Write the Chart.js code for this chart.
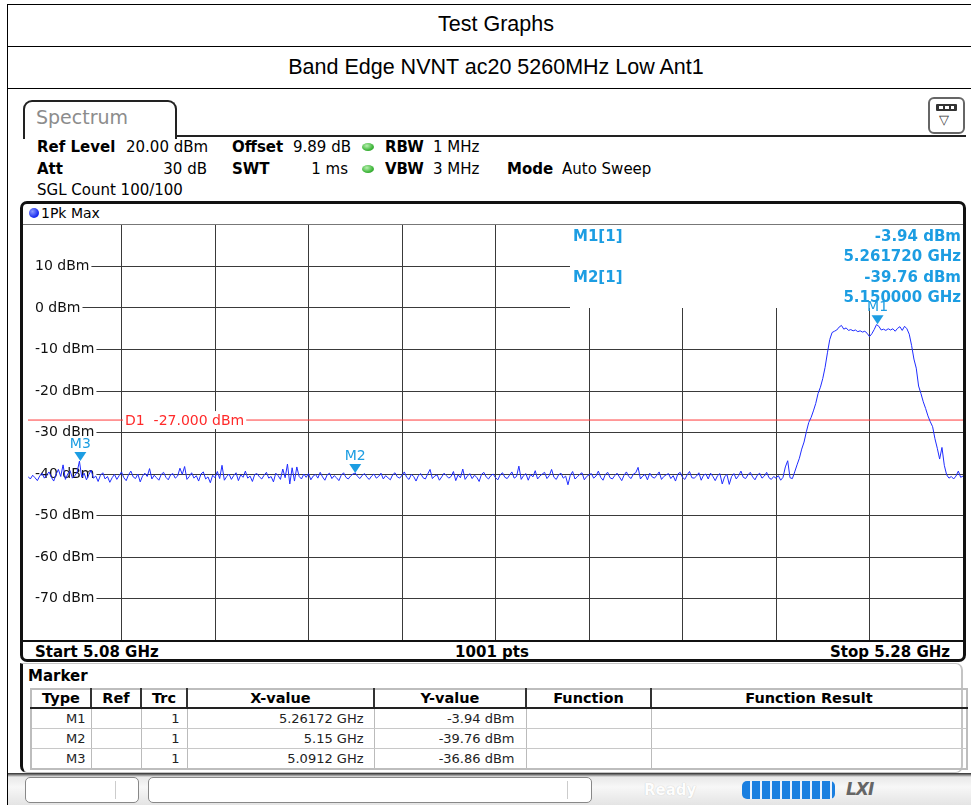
<!DOCTYPE html>
<html>
<head>
<meta charset="utf-8">
<script src="https://cdn.jsdelivr.net/npm/chart.js@4.4.0/dist/chart.umd.min.js"></script>
<style>
  html, body { margin: 0; padding: 0; background: #fff; }
  #page { position: relative; width: 971px; height: 805px; overflow: hidden; font-family: "DejaVu Sans", sans-serif; }
  .abs { position: absolute; }
  .title { font-family: "Liberation Sans", Arial, sans-serif; font-size: 21.5px; text-align: center; left: 7px; width: 978px; }
  .hl { position: absolute; height: 1px; background: #000; }
  .b { font-weight: bold; }
  .hdr { font-size: 15px; white-space: nowrap; line-height: 18px; }
  .dot { position: absolute; width: 12px; height: 8px; border-radius: 50%; background: radial-gradient(ellipse at 40% 35%, #b8f0b0, #3fb63a 60%, #2a8a28); }
  #mtab { position: absolute; left: 30px; top: 688px; border-collapse: collapse; border: 2px solid #bdbdbd; font-size: 13px; }
  #mtab th { font-weight: bold; font-size: 14.5px; height: 17px; padding: 0; border-left: 2px solid #333; border-bottom: 2px solid #222; line-height: 17px; }
  #mtab th:first-child { border-left: none; }
  #mtab td { height: 19px; padding: 0; border-left: 1px solid #bbb; border-bottom: 1px solid #c8c8c8; text-align: right; line-height: 19px; color: #222; }
  #mtab td:first-child { border-left: none; }
</style>
</head>
<body>
<div id="page">
  <!-- report table -->
  <div class="abs" style="left:7px;top:4px;width:978px;height:830px;border:1px solid #000;"></div>
  <div class="hl" style="left:7px;top:46px;width:978px;"></div>
  <div class="hl" style="left:7px;top:88px;width:978px;"></div>
  <div class="abs title" style="top:12px;">Test Graphs</div>
  <div class="abs title" style="top:55px;">Band Edge NVNT ac20 5260MHz Low Ant1</div>

  <!-- spectrum tab -->
  <div class="abs" style="left:23px;top:100px;width:150px;height:37px;border:2px solid #222;border-bottom:none;border-radius:9px 9px 0 0;"></div>
  <div class="abs" style="left:36px;top:106px;font-size:19px;color:#8c8c8c;">Spectrum</div>
  <div class="abs" style="left:175px;top:135px;width:791px;height:2px;background:#222;"></div>
  <div class="abs" style="left:928px;top:97px;width:33px;height:33px;border:2px solid #666;border-radius:6px;background:#fff;">
    <div class="abs" style="left:6px;top:5px;width:21px;height:7px;background:#333;border-radius:1px;"></div>
    <div class="abs" style="left:9px;top:7px;width:4px;height:3px;background:#fff;"></div>
    <div class="abs" style="left:15px;top:7px;width:4px;height:3px;background:#fff;"></div>
    <div class="abs" style="left:21px;top:7px;width:3px;height:3px;background:#fff;"></div>
    <div class="abs" style="left:9px;top:13px;font-size:13px;color:#333;">&#9661;</div>
  </div>

  <!-- settings -->
  <div class="abs hdr" style="left:37px;top:138px;"><span class="b">Ref Level</span></div>
  <div class="abs hdr" style="left:126px;top:138px;">20.00 dBm</div>
  <div class="abs hdr" style="left:232px;top:138px;"><span class="b">Offset</span></div>
  <div class="abs hdr" style="left:293px;top:138px;">9.89 dB</div>
  <div class="dot" style="left:362px;top:143px;"></div>
  <div class="abs hdr" style="left:385px;top:138px;"><span class="b">RBW</span></div>
  <div class="abs hdr" style="left:433px;top:138px;">1 MHz</div>

  <div class="abs hdr" style="left:37px;top:160px;"><span class="b">Att</span></div>
  <div class="abs hdr" style="left:157px;top:160px;width:50px;text-align:right;">30 dB</div>
  <div class="abs hdr" style="left:232px;top:160px;"><span class="b">SWT</span></div>
  <div class="abs hdr" style="left:298px;top:160px;width:50px;text-align:right;">1 ms</div>
  <div class="dot" style="left:362px;top:165px;"></div>
  <div class="abs hdr" style="left:385px;top:160px;"><span class="b">VBW</span></div>
  <div class="abs hdr" style="left:433px;top:160px;">3 MHz</div>
  <div class="abs hdr" style="left:507px;top:160px;"><span class="b">Mode</span></div>
  <div class="abs hdr" style="left:562px;top:160px;">Auto Sweep</div>

  <div class="abs hdr" style="left:37px;top:181px;">SGL Count 100/100</div>

  <!-- diagram frame -->
  <div class="abs" style="left:20px;top:201px;width:946px;height:461px;box-sizing:border-box;border:3px solid #111;border-radius:7px;"></div>
  <div class="abs" style="left:29px;top:208px;width:10px;height:10px;border-radius:50%;background:radial-gradient(circle at 35% 35%, #8a9aff, #1a2cf0 65%);"></div>
  <div class="abs" style="left:41px;top:204px;font-size:14px;line-height:18px;">1Pk Max</div>

  <canvas id="spec" width="935" height="415" class="abs" style="left:28px;top:225px;"></canvas>

  <div class="abs" style="left:23px;top:224px;width:940px;height:1px;background:#777;z-index:2;"></div>
  <div class="abs" style="left:23px;top:640px;width:940px;height:2px;background:#111;z-index:2;"></div>
  <div class="abs hdr b" style="left:35px;top:643px;">Start 5.08 GHz</div>
  <div class="abs hdr b" style="left:392px;top:643px;width:200px;text-align:center;">1001 pts</div>
  <div class="abs hdr b" style="left:750px;top:643px;width:200px;text-align:right;">Stop 5.28 GHz</div>

  <!-- marker table panel -->
  <div class="abs" style="left:20px;top:663px;width:943px;height:110px;box-sizing:border-box;border:1px solid #c4c4c4;border-left:3px solid #111;border-right:2px solid #c4c4c4;border-radius:0 7px 7px 7px;"></div>
  <div class="abs hdr b" style="left:28px;top:667px;">Marker</div>
  <table id="mtab">
    <thead><tr>
      <th style="width:58px">Type</th><th style="width:48px">Ref</th><th style="width:44px">Trc</th>
      <th style="width:185px">X-value</th><th style="width:150px">Y-value</th><th style="width:123px">Function</th><th style="width:314px">Function Result</th>
    </tr></thead>
    <tbody id="mrows"></tbody>
  </table>

  <!-- status bar -->
  <div class="abs" style="left:8px;top:773px;width:963px;height:32px;background:linear-gradient(#2a2a2a 0px, #8a8a8a 2px, #e9e9e9 4px, #f7f7f7 14px, #e4e4e4 32px);"></div>
  <div class="abs" style="left:25px;top:777px;width:114px;height:26px;box-sizing:border-box;border:1px solid #888;border-radius:5px;background:#fff;"></div>
  <div class="abs" style="left:115px;top:781px;width:1px;height:18px;background:#ccc;"></div>
  <div class="abs" style="left:148px;top:777px;width:444px;height:26px;box-sizing:border-box;border:1px solid #888;border-radius:5px;background:#fff;"></div>
  <div class="abs" style="left:567px;top:781px;width:1px;height:18px;background:#ccc;"></div>
  <div class="abs b" style="left:644px;top:781px;font-size:15px;color:#fdfdfd;text-shadow:0 0 1px #bbb;">Ready</div>
  <div class="abs" style="left:742px;top:781px;width:93px;height:18px;border-radius:5px;background:repeating-linear-gradient(90deg,#1a7fe0 0px,#1a7fe0 8px,#e8f2ff 8px,#e8f2ff 10px);"></div>
  <div class="abs b" style="left:846px;top:779px;font-size:17px;font-style:italic;color:#666;letter-spacing:-1px;">LXI</div>
</div>

<script>
// sweep
const startGHz = 5.08;
const stopGHz = 5.28;
const xTicks = [5.10, 5.12, 5.14, 5.16, 5.18, 5.20, 5.22, 5.24, 5.26];
const yTicks = [10, 0, -10, -20, -30, -40, -50, -60, -70];
const yMin = -80, yMax = 20;

// 1Pk Max trace, dBm, read at 0.5 MHz steps
const traceDbm = [
  -40.6,-41.2,-40.3,-40.9,-41.6,-40.5,-39.8,-41.0,-40.2,-39.5,-40.8,-41.7,-40.1,-38.9,-40.6,-37.8,-41.3,-40.0,-39.2,-41.0,
  -40.4,-39.6,-36.9,-40.8,-39.8,-41.4,-40.2,-39.1,-41.0,-40.5,-41.8,-40.3,-39.7,-41.2,-40.6,-42.0,-40.9,-40.1,-41.3,-40.4,
  -39.5,-40.9,-41.6,-40.2,-39.3,-40.7,-41.1,-40.0,-41.9,-40.5,-39.8,-40.6,-38.7,-41.2,-40.3,-40.9,-41.5,-40.1,-39.6,-40.8,
  -41.4,-40.2,-39.9,-41.0,-40.5,-38.6,-40.1,-38.2,-41.3,-40.6,-39.7,-41.0,-40.4,-41.7,-40.0,-39.5,-41.2,-40.7,-42.1,-40.3,
  -40.9,-39.4,-41.1,-37.9,-41.5,-40.6,-40.0,-41.3,-40.4,-39.7,-41.6,-40.2,-40.8,-39.3,-41.0,-40.5,-41.8,-40.1,-39.9,-40.7,
  -41.2,-40.3,-39.6,-41.0,-40.6,-41.9,-39.8,-40.4,-41.3,-38.8,-40.9,-37.6,-42.4,-38.5,-41.7,-38.3,-40.6,-41.2,-40.0,-40.8,
  -39.9,-41.4,-40.5,-40.1,-41.0,-39.6,-40.7,-41.5,-40.2,-39.8,-41.1,-40.4,-40.9,-41.6,-40.3,-39.7,-40.8,-41.2,-40.5,-40.0,
  -39.76,-40.6,-41.1,-40.3,-39.9,-40.8,-41.3,-40.5,-40.0,-41.0,-40.6,-39.8,-41.2,-40.4,-40.9,-41.4,-40.2,-39.7,-40.7,-41.0,
  -40.3,-39.5,-40.8,-41.3,-40.1,-40.6,-41.7,-40.4,-39.9,-40.9,-41.2,-40.0,-38.9,-41.1,-40.5,-40.2,-41.5,-40.7,-39.8,-40.4,
  -41.0,-40.6,-39.4,-41.6,-40.2,-40.9,-38.8,-41.3,-40.5,-39.9,-41.1,-40.3,-40.8,-41.8,-40.1,-39.6,-40.7,-41.2,-40.4,-40.0,
  -40.9,-41.4,-40.2,-39.7,-40.8,-41.1,-40.3,-39.5,-41.0,-40.6,-38.1,-41.3,-40.4,-39.9,-41.5,-40.1,-40.7,-39.2,-41.2,-40.5,
  -40.0,-39.6,-41.1,-40.4,-38.9,-40.8,-41.3,-40.2,-39.8,-41.0,-40.5,-42.6,-40.3,-39.4,-41.2,-40.7,-40.1,-39.7,-41.4,-40.6,
  -40.2,-39.9,-41.0,-40.5,-39.3,-40.8,-41.5,-40.1,-39.6,-40.9,-41.2,-40.4,-39.8,-40.7,-41.6,-40.3,-39.5,-40.6,-41.1,-40.0,
  -39.7,-38.4,-41.2,-40.5,-40.1,-41.4,-39.8,-40.7,-41.0,-40.3,-39.5,-41.3,-40.6,-40.2,-39.9,-41.1,-40.4,-41.7,-40.0,-39.6,
  -40.8,-41.3,-40.2,-39.4,-40.9,-41.0,-40.5,-39.7,-41.5,-40.3,-40.0,-41.2,-39.8,-40.6,-41.6,-40.4,-39.9,-42.4,-40.7,-40.1,
  -42.5,-40.6,-39.9,-41.2,-40.4,-39.3,-40.8,-41.1,-40.2,-39.6,-40.7,-41.4,-40.3,-39.8,-41.0,-40.5,-39.6,-40.9,-41.3,-40.6,
  -41.0,-40.4,-41.5,-40.8,-38.3,-36.8,-40.9,-41.1,-39.5,-37.8,-36.2,-34.0,-32.3,-29.8,-27.6,-26.4,-24.8,-23.0,-20.6,-19.1,
  -17.0,-14.3,-10.8,-7.6,-5.9,-5.6,-5.3,-4.6,-4.2,-5.1,-4.8,-5.4,-5.2,-5.5,-5.3,-5.7,-5.5,-5.8,-5.6,-6.1,
  -6.9,-6.2,-5.2,-4.0,-4.4,-5.3,-5.1,-5.4,-5.0,-5.3,-5.0,-5.6,-4.9,-4.5,-5.4,-4.4,-5.0,-6.3,-9.0,-12.3,
  -14.5,-18.8,-20.6,-22.6,-24.2,-26.0,-27.4,-28.6,-31.5,-33.8,-36.4,-33.6,-37.9,-40.2,-41.0,-40.6,-41.2,-40.5,-39.3,-40.8,
  -40.5
];

// markers
const markerNames = ['M1', 'M2', 'M3'];
const markerGHz = [5.26172, 5.15, 5.0912];
const markerDbm = [-3.94, -39.76, -36.86];
const markerTrace = [1, 1, 1];

// display line
const d1Dbm = -27;

const FONT = '"DejaVu Sans", sans-serif';
const MK = '#1c9de2';

const step = (stopGHz - startGHz) / (traceDbm.length - 1);
const tracePts = traceDbm.map((v, i) => ({ x: startGHz + i * step, y: v }));

const noPad = (s) => {
  s.paddingTop = 0; s.paddingBottom = 0; s.paddingLeft = 0; s.paddingRight = 0;
};

const spectrumDecor = {
  id: 'spectrumDecor',
  beforeDatasetsDraw(chart) {
    // blank area behind the marker readout
    const { ctx, chartArea, scales } = chart;
    const y0 = scales.y.getPixelForValue(0);
    ctx.save();
    ctx.fillStyle = '#fff';
    ctx.fillRect(chartArea.left + 542, chartArea.top, chartArea.right - chartArea.left - 542, Math.round(y0) - chartArea.top);
    ctx.restore();
  },
  afterDatasetsDraw(chart) {
    const { ctx, chartArea, scales } = chart;
    const xs = scales.x, ys = scales.y;
    ctx.save();

    // D1 label
    const dy = ys.getPixelForValue(d1Dbm);
    const d1Text = 'D1  ' + d1Dbm.toFixed(3) + ' dBm';
    ctx.font = '14px ' + FONT;
    const tw = ctx.measureText(d1Text).width;
    const lx = chartArea.left + 97;
    ctx.fillStyle = '#fff';
    ctx.fillRect(lx - 2, dy - 9, tw + 4, 18);
    ctx.fillStyle = '#ff2a2a';
    ctx.textBaseline = 'middle';
    ctx.fillText(d1Text, lx, dy + 1);

    // marker triangles
    markerNames.forEach((name, i) => {
      const px = xs.getPixelForValue(markerGHz[i]);
      const py = ys.getPixelForValue(markerDbm[i]);
      ctx.fillStyle = MK;
      ctx.beginPath();
      ctx.moveTo(px, py);
      ctx.lineTo(px - 6, py - 9);
      ctx.lineTo(px + 6, py - 9);
      ctx.closePath();
      ctx.fill();
      ctx.font = '14px ' + FONT;
      ctx.textAlign = 'center';
      ctx.textBaseline = 'alphabetic';
      ctx.fillText(name, px, py - 13);
    });

    // marker readout
    ctx.font = 'bold 15px ' + FONT;
    ctx.fillStyle = MK;
    ctx.textBaseline = 'middle';
    const left = chartArea.left + 545, right = chartArea.right - 2;
    [0, 1].forEach((i) => {
      const top = chartArea.top + 12 + i * 41;
      ctx.textAlign = 'left';
      ctx.fillText(markerNames[i] + '[' + markerTrace[i] + ']', left, top);
      ctx.textAlign = 'right';
      ctx.fillText(markerDbm[i].toFixed(2) + ' dBm', right, top);
      ctx.fillText(markerGHz[i].toFixed(6) + ' GHz', right, top + 20);
    });
    ctx.restore();
  }
};

new Chart(document.getElementById('spec').getContext('2d'), {
  type: 'line',
  data: {
    datasets: [{
      label: '1Pk Max',
      data: tracePts,
      borderColor: '#1f2cff',
      borderWidth: 1,
      pointRadius: 0,
      tension: 0,
      order: 0
    }, {
      label: 'D1',
      data: [{ x: startGHz, y: d1Dbm }, { x: stopGHz, y: d1Dbm }],
      borderColor: '#ff3a3a',
      borderWidth: 1,
      pointRadius: 0,
      order: 1
    }]
  },
  options: {
    responsive: false,
    animation: false,
    devicePixelRatio: 1,
    events: [],
    layout: { padding: 0, autoPadding: false },
    plugins: { legend: { display: false }, tooltip: { enabled: false } },
    scales: {
      x: {
        type: 'linear',
        min: startGHz,
        max: stopGHz,
        afterBuildTicks: (s) => { s.ticks = xTicks.map(v => ({ value: v })); },
        afterFit: (s) => { s.height = 0; noPad(s); },
        ticks: { display: false },
        grid: { color: '#3a3a3a', lineWidth: 1, drawTicks: false },
        border: { display: false }
      },
      y: {
        type: 'linear',
        min: yMin,
        max: yMax,
        afterBuildTicks: (s) => { s.ticks = yTicks.map(v => ({ value: v })); },
        afterFit: (s) => { s.width = 0; noPad(s); },
        ticks: {
          mirror: true,
          padding: 7,
          color: '#111',
          font: { family: FONT, size: 14 },
          callback: (v) => v + ' dBm',
          showLabelBackdrop: true,
          backdropColor: '#fff',
          backdropPadding: { top: 1, bottom: 1, left: 8, right: 2 }
        },
        grid: { color: '#3a3a3a', lineWidth: 1, drawTicks: false },
        border: { display: false }
      }
    }
  },
  plugins: [spectrumDecor]
});

// marker table rows
const tbody = document.getElementById('mrows');
markerNames.forEach((name, i) => {
  const tr = document.createElement('tr');
  const cells = [
    [name, 5], ['', 0], [String(markerTrace[i]), 7],
    [markerGHz[i] + ' GHz', 10], [markerDbm[i].toFixed(2) + ' dBm', 11], ['', 0], ['', 0]
  ];
  cells.forEach(([t, pad]) => {
    const td = document.createElement('td');
    td.textContent = t;
    td.style.paddingRight = pad + 'px';
    tr.appendChild(td);
  });
  tbody.appendChild(tr);
});
</script>
</body>
</html>
